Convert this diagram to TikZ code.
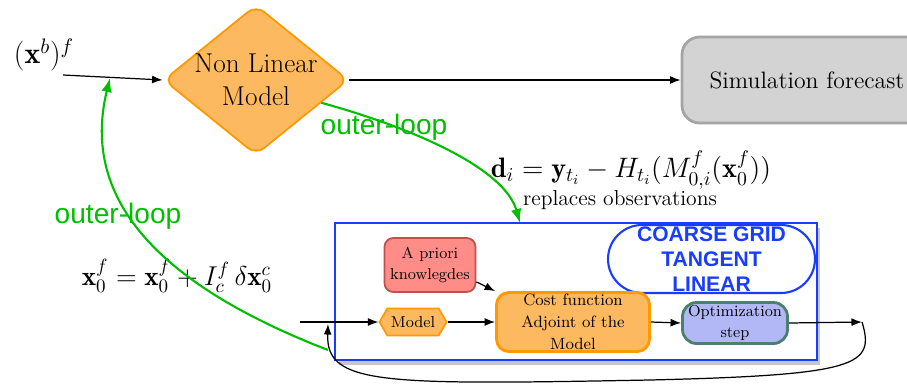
\RequirePackage{fix-cm}
\documentclass[tikz,border=0pt]{standalone}
\usepackage{amsmath}
\usepackage{bm}
\usepackage{fontspec}
\newfontfamily\helv{Liberation Sans}
\usetikzlibrary{shapes.geometric,shapes.symbols,shadows,arrows.meta,calc}
\definecolor{nlFill}{RGB}{253,185,95}
\definecolor{nlBorder}{RGB}{255,153,0}
\definecolor{simFill}{RGB}{211,211,211}
\definecolor{simBorder}{RGB}{165,165,165}
\definecolor{cgBlue}{RGB}{25,60,255}
\definecolor{priorFill}{RGB}{255,140,135}
\definecolor{priorBorder}{RGB}{192,80,77}
\definecolor{optFill}{RGB}{178,184,246}
\definecolor{optBorder}{RGB}{76,128,110}
\definecolor{loopGreen}{RGB}{0,190,0}

\begin{document}
\begin{tikzpicture}[x=0.02cm, y=-0.02cm,
        arr/.style={-{Latex[length=6pt,width=4.5pt]}, line width=0.7pt},
        loop/.style={-{Latex[length=8pt,width=6pt]}, line width=1.2pt, draw=loopGreen},
        box/.style={rounded corners=5pt, align=center, inner sep=0pt, font=\fontsize{9}{11.5}\selectfont},
        looptext/.style={text=loopGreen, font=\helv\fontsize{16}{18}\selectfont}]

        \useasboundingbox (0,0) rectangle (907,383);

        % non linear model
        \node[diamond, draw=nlBorder, fill=nlFill, line width=1pt, minimum width=3.7cm, minimum height=3cm, inner sep=0pt, rounded corners=6pt] (nl) at (256,80) {};
        \node[align=center, font=\fontsize{15.5}{19}\selectfont] (nltext) at (nl) {Non Linear\\Model};
        \node[draw=simBorder, fill=simFill, line width=1.6pt, rounded corners=10pt, minimum width=5cm, minimum height=1.72cm, font=\fontsize{13.5}{15}\selectfont] (sim) at (807,80) {Simulation forecast};
        \node[font=\fontsize{17}{20}\selectfont] (xb) at (44,55) {$(\mathbf{x}^b)^f$};
        \coordinate (in) at (63,75);
        \draw[arr] (in) -- (nl.west);
        \draw[arr] (nl.east) -- (sim.west);

        % texts
        \node[looptext] (loopup) at (384,127) {outer-loop};
        \node[looptext] (looplow) at (118,216) {outer-loop};
        \node[font=\fontsize{16}{18}\selectfont] (innov) at (631,170) {$\mathbf{d}_i = \mathbf{y}_{t_i} - H_{t_i}(M^f_{0,i}(\mathbf{x}^f_0))$};
        \node[font=\fontsize{12.3}{14}\selectfont] (repl) at (620,200) {replaces observations};
        \node[font=\fontsize{15.5}{18}\selectfont] (update) at (177,276) {$\mathbf{x}^f_0 = \mathbf{x}^f_0 + I^f_c\,\delta\mathbf{x}^c_0$};

        % coarse grid
        \node[draw=cgBlue, fill=white, line width=1.4pt, minimum width=9.64cm, minimum height=2.74cm, drop shadow={opacity=0.45, shadow xshift=2pt, shadow yshift=-3pt}] (cg) at (576,291.5) {};
        \node[draw=cgBlue, line width=1.2pt, rounded corners=0.68cm, minimum width=4.14cm, minimum height=1.36cm, inner sep=0pt, align=center, text=cgBlue, font=\helv\bfseries\fontsize{12}{14.2}\selectfont] (tl) at (711.5,259) {COARSE GRID\\TANGENT\\LINEAR};
        \node[box, draw=priorBorder, fill=priorFill, line width=1pt, minimum width=1.82cm, minimum height=1.08cm] (prior) at (430,265) {A priori\\knowlegdes};
        \node[signal, signal to=east and west, signal pointer angle=120, draw=nlBorder, fill=nlFill, line width=1pt, minimum width=1.34cm, minimum height=0.54cm, inner sep=1pt, font=\fontsize{9}{11}\selectfont] (model) at (413,322) {Model};
        \node[box, draw=nlBorder, fill=nlFill, line width=1.6pt, rounded corners=7pt, minimum width=3.06cm, minimum height=1.18cm, font=\fontsize{9.3}{12.5}\selectfont] (cost) at (573,322) {Cost function\\Adjoint of the\\Model};
        \node[box, draw=optBorder, fill=optFill, line width=1.6pt, rounded corners=8pt, minimum width=2.1cm, minimum height=0.82cm] (opt) at (735,323) {Optimization\\step};

        \coordinate (loopin) at (300,322);
        \coordinate (loopout) at (862,322);
        \coordinate (back) at (328,324);
        \draw[arr] (loopin) -- (model.west);
        \draw[arr] (prior.-20) -- (cost.north west);
        \draw[arr] (model.east) -- (cost.west);
        \draw[arr] (cost.east) -- (opt.west);
        \draw[arr] (opt.east) -- (loopout);
        \draw[arr] (loopout) .. controls (875,365) and (860,375) .. (650,380) .. controls (380,385) and (326,385) .. (back);

        % outer loops
        \coordinate (gstart) at (328,350);
        \coordinate (ginput) at (110,78);
        \coordinate (nlout) at ($(nl.east)!0.3!(nl.south)$);
        \coordinate (cgin) at (520,223);
        \draw[loop] (gstart) .. controls (160,285) and (80,200) .. (ginput);
        \draw[loop] (nlout) .. controls (420,130) and (505,170) .. (cgin);

    \end{tikzpicture}
\end{document}
